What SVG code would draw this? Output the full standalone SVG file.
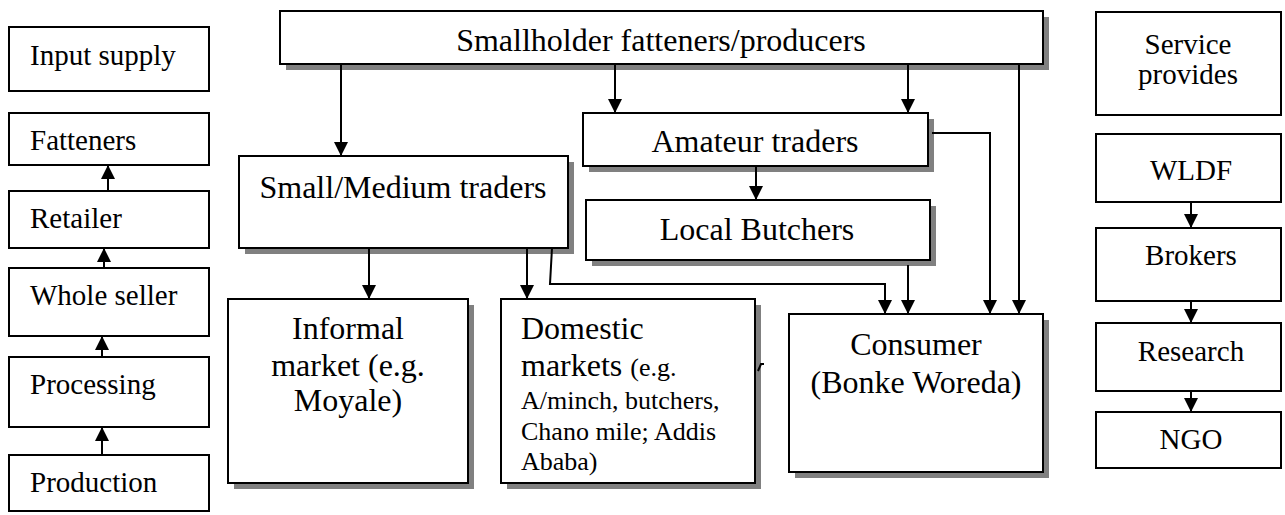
<svg xmlns="http://www.w3.org/2000/svg" width="1285" height="515" viewBox="0 0 1285 515">
<style>
.box{fill:#fff;stroke:#000;stroke-width:2}
.sh{fill:#808080}
.t{font-family:"Liberation Serif","Times New Roman",serif;font-size:29px;fill:#000}
.b{font-size:32px}
.s{font-size:26px}
.c{text-anchor:middle}
.ln{fill:none;stroke:#000;stroke-width:2}
</style>
<defs>
<marker id="ah" viewBox="0 0 14 14" refX="14" refY="7" markerWidth="14" markerHeight="14" markerUnits="userSpaceOnUse" orient="auto">
<path d="M0,0 L14,7 L0,14 Z" fill="#000"/>
</marker>
</defs>
<rect width="1285" height="515" fill="#fff"/>

<!-- left column -->
<g id="input-supply"><rect class="box" x="9" y="27" width="200" height="64"/><text class="t" x="30" y="65">Input supply</text></g>
<g id="fatteners"><rect class="box" x="9" y="113" width="200" height="52"/><text class="t" x="30" y="150">Fatteners</text></g>
<g id="retailer"><rect class="box" x="9" y="191" width="200" height="57"/><text class="t" x="30" y="228">Retailer</text></g>
<g id="whole-seller"><rect class="box" x="9" y="268" width="200" height="68"/><text class="t" x="30" y="305">Whole seller</text></g>
<g id="processing"><rect class="box" x="9" y="357" width="200" height="70"/><text class="t" x="30" y="394">Processing</text></g>
<g id="production"><rect class="box" x="9" y="455" width="200" height="56"/><text class="t" x="30" y="492">Production</text></g>

<!-- center -->
<g id="smallholder"><rect class="sh" x="286" y="17" width="763" height="53"/><rect class="box" x="280" y="11" width="763" height="53"/><text class="t b c" x="661" y="51">Smallholder fatteners/producers</text></g>
<g id="small-medium"><rect class="sh" x="245" y="162" width="329" height="92"/><rect class="box" x="239" y="156" width="329" height="92"/><text class="t b c" x="403" y="198">Small/Medium traders</text></g>
<g id="amateur"><rect class="sh" x="589" y="119" width="345" height="53"/><rect class="box" x="583" y="113" width="345" height="53"/><text class="t b c" x="755" y="152">Amateur traders</text></g>
<g id="local-butchers"><rect class="sh" x="592" y="206" width="344" height="60"/><rect class="box" x="586" y="200" width="344" height="60"/><text class="t b c" x="757" y="240">Local Butchers</text></g>
<g id="informal"><rect class="sh" x="234" y="305" width="240" height="184"/><rect class="box" x="228" y="299" width="240" height="184"/><text class="t b c" x="348" y="339">Informal</text><text class="t b c" x="348" y="376">market (e.g.</text><text class="t b c" x="348" y="411">Moyale)</text></g>
<g id="domestic"><rect class="sh" x="507" y="305" width="254" height="184"/><rect class="box" x="501" y="299" width="254" height="184"/><text class="t b" x="521" y="339">Domestic</text><text class="t b" x="521" y="376">markets <tspan class="s">(e.g.</tspan></text><text class="t s" x="521" y="409">A/minch, butchers,</text><text class="t s" x="521" y="440">Chano mile; Addis</text><text class="t s" x="521" y="470">Ababa)</text></g>
<g id="consumer"><rect class="sh" x="795" y="320" width="254" height="158"/><rect class="box" x="789" y="314" width="254" height="158"/><text class="t b c" x="916" y="355">Consumer</text><text class="t b c" x="916" y="393">(Bonke Woreda)</text></g>

<!-- right column -->
<g id="service"><rect class="box" x="1096" y="12" width="185" height="103"/><text class="t c" x="1188" y="54">Service</text><text class="t c" x="1188" y="84">provides</text></g>
<g id="wldf"><rect class="box" x="1096" y="134" width="185" height="68"/><text class="t c" x="1191" y="180">WLDF</text></g>
<g id="brokers"><rect class="box" x="1096" y="228" width="185" height="73"/><text class="t c" x="1191" y="265">Brokers</text></g>
<g id="research"><rect class="box" x="1096" y="323" width="185" height="68"/><text class="t c" x="1191" y="361">Research</text></g>
<g id="ngo"><rect class="box" x="1096" y="412" width="185" height="56"/><text class="t c" x="1191" y="449">NGO</text></g>

<g id="connectors">
<path class="ln" d="M108,191 V165" marker-end="url(#ah)"/>
<path class="ln" d="M104,268 V248" marker-end="url(#ah)"/>
<path class="ln" d="M102,357 V336" marker-end="url(#ah)"/>
<path class="ln" d="M102,455 V427" marker-end="url(#ah)"/>
<path class="ln" d="M1191,202 V228" marker-end="url(#ah)"/>
<path class="ln" d="M1191,301 V323" marker-end="url(#ah)"/>
<path class="ln" d="M1191,391 V412" marker-end="url(#ah)"/>
<path class="ln" d="M341,64 V156" marker-end="url(#ah)"/>
<path class="ln" d="M615,64 V113" marker-end="url(#ah)"/>
<path class="ln" d="M908,64 V113" marker-end="url(#ah)"/>
<path class="ln" d="M1019,64 V314" marker-end="url(#ah)"/>
<path class="ln" d="M932,133 H990 V314" marker-end="url(#ah)"/>
<path class="ln" d="M756,166 V200" marker-end="url(#ah)"/>
<path class="ln" d="M908,265 V314" marker-end="url(#ah)"/>
<path class="ln" d="M552,248 L550,284 H885 V314" marker-end="url(#ah)"/>
<path class="ln" d="M369,248 V299" marker-end="url(#ah)"/>
<path class="ln" d="M527,248 V299" marker-end="url(#ah)"/>
<path class="ln" d="M758,371 L761,364 H764"/>
</g>
</svg>
